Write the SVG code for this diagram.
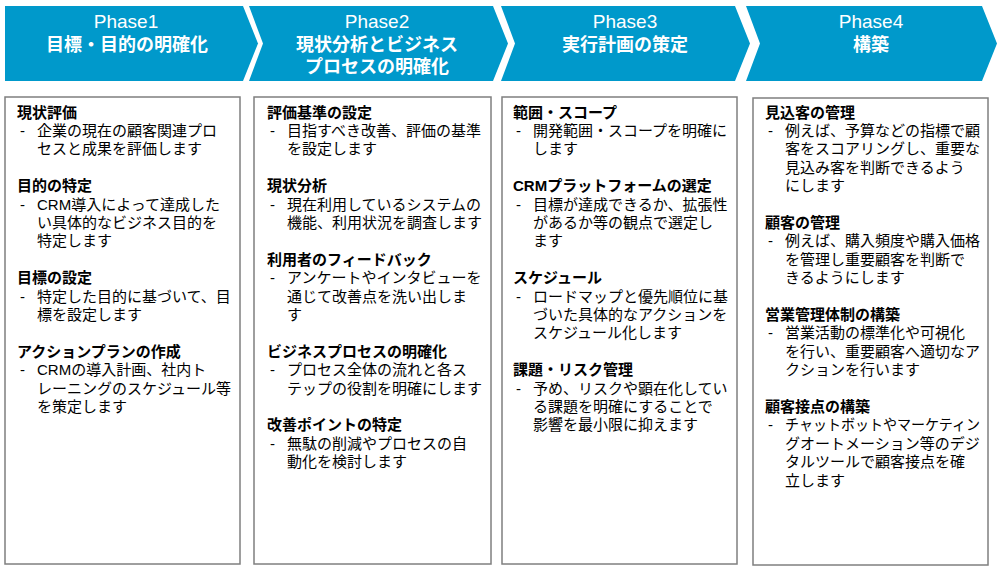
<svg xmlns="http://www.w3.org/2000/svg" width="1000" height="571" viewBox="0 0 1000 571">
<style>
.chev{fill:#0099cb}
.hd{font-family:"Liberation Sans","Noto Sans CJK JP",sans-serif;fill:#fff;text-anchor:middle}
.ph{font-size:19px;font-weight:normal}
.tt{font-size:18px;font-weight:bold}
.box{fill:#fff;stroke:#7f7f7f;stroke-width:1.5}
.s{font-family:"Liberation Sans","Noto Sans CJK JP",sans-serif;font-size:15px;fill:#000}
.h{font-weight:bold}
</style>
<rect width="1000" height="571" fill="#fff"/>
<g id="connectors"/>

<g id="phase1-header">
<polygon class="chev" points="5,6 243,6 258,43.5 243,81 5,81"/>
<text class="hd"><tspan class="ph" x="126" y="28">Phase1</tspan><tspan class="tt" x="127" y="50.5">目標・目的の明確化</tspan></text>
</g>
<g id="phase2-header">
<polygon class="chev" points="249,6 493,6 508,43.5 493,81 249,81 263,43.5"/>
<text class="hd"><tspan class="ph" x="377" y="28">Phase2</tspan><tspan class="tt" x="377" y="50.5">現状分析とビジネス</tspan><tspan class="tt" x="377" y="72.5">プロセスの明確化</tspan></text>
</g>
<g id="phase3-header">
<polygon class="chev" points="501,6 735,6 750,43.5 735,81 501,81 515,43.5"/>
<text class="hd"><tspan class="ph" x="625" y="28">Phase3</tspan><tspan class="tt" x="625" y="50.5">実行計画の策定</tspan></text>
</g>
<g id="phase4-header">
<polygon class="chev" points="746,6 982,6 997,43.5 982,81 746,81 760,43.5"/>
<text class="hd"><tspan class="ph" x="871" y="28">Phase4</tspan><tspan class="tt" x="871" y="50.5">構築</tspan></text>
</g>

<g id="phase1-box">
<rect class="box" x="5" y="97" width="235" height="467"/>
<text class="s"><tspan class="h" x="17" y="117.5">現状評価</tspan><tspan x="20" y="135.9">-</tspan><tspan x="37" y="135.9">企業の現在の顧客関連プロ</tspan><tspan x="37" y="154.3">セスと成果を評価します</tspan></text>
<text class="s"><tspan class="h" x="17" y="191.1">目的の特定</tspan><tspan x="20" y="209.5">-</tspan><tspan x="37" y="209.5">CRM導入によって達成した</tspan><tspan x="37" y="227.9">い具体的なビジネス目的を</tspan><tspan x="37" y="246.3">特定します</tspan></text>
<text class="s"><tspan class="h" x="17" y="283.1">目標の設定</tspan><tspan x="20" y="301.5">-</tspan><tspan x="37" y="301.5">特定した目的に基づいて、目</tspan><tspan x="37" y="319.9">標を設定します</tspan></text>
<text class="s"><tspan class="h" x="17" y="356.7">アクションプランの作成</tspan><tspan x="20" y="375.1">-</tspan><tspan x="37" y="375.1">CRMの導入計画、社内ト</tspan><tspan x="37" y="393.5">レーニングのスケジュール等</tspan><tspan x="37" y="411.9">を策定します</tspan></text>
</g>

<g id="phase2-box">
<rect class="box" x="254" y="97" width="237" height="467"/>
<text class="s"><tspan class="h" x="267" y="117.5">評価基準の設定</tspan><tspan x="270" y="135.9">-</tspan><tspan x="287" y="135.9">目指すべき改善、評価の基準</tspan><tspan x="287" y="154.3">を設定します</tspan></text>
<text class="s"><tspan class="h" x="267" y="191.1">現状分析</tspan><tspan x="270" y="209.5">-</tspan><tspan x="287" y="209.5">現在利用しているシステムの</tspan><tspan x="287" y="227.9">機能、利用状況を調査します</tspan></text>
<text class="s"><tspan class="h" x="267" y="264.7">利用者のフィードバック</tspan><tspan x="270" y="283.1">-</tspan><tspan x="287" y="283.1">アンケートやインタビューを</tspan><tspan x="287" y="301.5">通じて改善点を洗い出しま</tspan><tspan x="287" y="319.9">す</tspan></text>
<text class="s"><tspan class="h" x="267" y="356.7">ビジネスプロセスの明確化</tspan><tspan x="270" y="375.1">-</tspan><tspan x="287" y="375.1">プロセス全体の流れと各ス</tspan><tspan x="287" y="393.5">テップの役割を明確にします</tspan></text>
<text class="s"><tspan class="h" x="267" y="430.3">改善ポイントの特定</tspan><tspan x="270" y="448.7">-</tspan><tspan x="287" y="448.7">無駄の削減やプロセスの自</tspan><tspan x="287" y="467.1">動化を検討します</tspan></text>
</g>

<g id="phase3-box">
<rect class="box" x="502" y="97" width="235" height="467"/>
<text class="s"><tspan class="h" x="513" y="117.5">範囲・スコープ</tspan><tspan x="516" y="135.9">-</tspan><tspan x="533" y="135.9">開発範囲・スコープを明確に</tspan><tspan x="533" y="154.3">します</tspan></text>
<text class="s"><tspan class="h" x="513" y="191.1">CRMプラットフォームの選定</tspan><tspan x="516" y="209.5">-</tspan><tspan x="533" y="209.5">目標が達成できるか、拡張性</tspan><tspan x="533" y="227.9">があるか等の観点で選定し</tspan><tspan x="533" y="246.3">ます</tspan></text>
<text class="s"><tspan class="h" x="513" y="283.1">スケジュール</tspan><tspan x="516" y="301.5">-</tspan><tspan x="533" y="301.5">ロードマップと優先順位に基</tspan><tspan x="533" y="319.9">づいた具体的なアクションを</tspan><tspan x="533" y="338.3">スケジュール化します</tspan></text>
<text class="s"><tspan class="h" x="513" y="375.1">課題・リスク管理</tspan><tspan x="516" y="393.5">-</tspan><tspan x="533" y="393.5">予め、リスクや顕在化してい</tspan><tspan x="533" y="411.9">る課題を明確にすることで</tspan><tspan x="533" y="430.3">影響を最小限に抑えます</tspan></text>
</g>

<g id="phase4-box">
<rect class="box" x="753" y="98" width="235" height="467"/>
<text class="s"><tspan class="h" x="765" y="117.5">見込客の管理</tspan><tspan x="768" y="135.9">-</tspan><tspan x="785" y="135.9">例えば、予算などの指標で顧</tspan><tspan x="785" y="154.3">客をスコアリングし、重要な</tspan><tspan x="785" y="172.7">見込み客を判断できるよう</tspan><tspan x="785" y="191.1">にします</tspan></text>
<text class="s"><tspan class="h" x="765" y="227.9">顧客の管理</tspan><tspan x="768" y="246.3">-</tspan><tspan x="785" y="246.3">例えば、購入頻度や購入価格</tspan><tspan x="785" y="264.7">を管理し重要顧客を判断で</tspan><tspan x="785" y="283.1">きるようにします</tspan></text>
<text class="s"><tspan class="h" x="765" y="319.9">営業管理体制の構築</tspan><tspan x="768" y="338.3">-</tspan><tspan x="785" y="338.3">営業活動の標準化や可視化</tspan><tspan x="785" y="356.7">を行い、重要顧客へ適切なア</tspan><tspan x="785" y="375.1">クションを行います</tspan></text>
<text class="s"><tspan class="h" x="765" y="411.9">顧客接点の構築</tspan><tspan x="768" y="430.3">-</tspan><tspan x="785" y="430.3" textLength="195" lengthAdjust="spacingAndGlyphs">チャットボットやマーケティン</tspan><tspan x="785" y="448.7">グオートメーション等のデジ</tspan><tspan x="785" y="467.1">タルツールで顧客接点を確</tspan><tspan x="785" y="485.5">立します</tspan></text>
</g>
</svg>
